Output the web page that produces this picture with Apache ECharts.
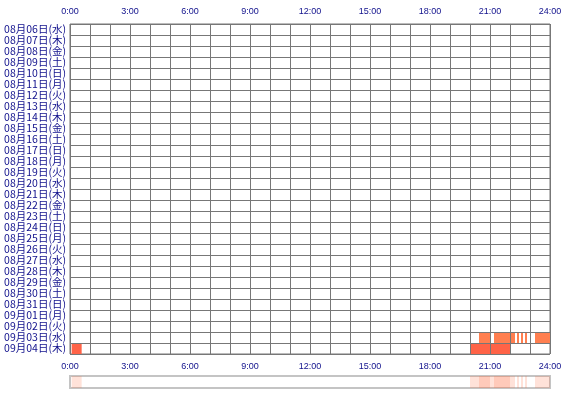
<!DOCTYPE html>
<html>
<head>
<meta charset="utf-8">
<title>timeline</title>
<script src="https://cdn.jsdelivr.net/npm/echarts@6/dist/echarts.min.js"></script>
<style>
  html, body { margin: 0; padding: 0; background: #fff; }
  #main { width: 570px; height: 400px; }
</style>
</head>
<body>
<div id="main"></div>
<script>
// 日付（行）
var dates = [
    '08月06日(水)', '08月07日(木)', '08月08日(金)', '08月09日(土)', '08月10日(日)',
    '08月11日(月)', '08月12日(火)', '08月13日(水)', '08月14日(木)', '08月15日(金)',
    '08月16日(土)', '08月17日(日)', '08月18日(月)', '08月19日(火)', '08月20日(水)',
    '08月21日(木)', '08月22日(金)', '08月23日(土)', '08月24日(日)', '08月25日(月)',
    '08月26日(火)', '08月27日(水)', '08月28日(木)', '08月29日(金)', '08月30日(土)',
    '08月31日(日)', '09月01日(月)', '09月02日(火)', '09月03日(水)', '09月04日(木)'
];

// 活動区間（分単位, 0-1440）
var sessDay   = ['09月03日(水)', '09月03日(水)', '09月03日(水)', '09月03日(水)', '09月03日(水)', '09月03日(水)',
                 '09月04日(木)', '09月04日(木)'];
var sessStart = [1227, 1272, 1341, 1353, 1365, 1395, 5, 1200];
var sessEnd   = [1260, 1335, 1347, 1359, 1371, 1440, 35, 1320];

// 時刻ラベル（3時間ごと）
var hourTicks = ['0:00', '3:00', '6:00', '9:00', '12:00', '15:00', '18:00', '21:00', '24:00'];

var labelColor = '#10108c';
var lineColor = '#777777';

function hourLabel(v) {
    if (v % 180 !== 0) return '';
    return hourTicks[v / 180];
}

var rows = [], strip = [];
for (var i = 0; i < sessDay.length; i++) {
    var r = dates.indexOf(sessDay[i]);
    rows.push([r, sessStart[i], sessEnd[i]]);
    strip.push([0, sessStart[i], sessEnd[i]]);
}

function renderBar(params, api) {
    var y = api.value(0);
    var a = api.coord([api.value(1), y]);
    var b = api.coord([api.value(2), y]);
    var h = api.size([0, 1])[1];
    return {
        type: 'rect',
        shape: { x: a[0], y: a[1] - h / 2, width: b[0] - a[0], height: h },
        style: api.style()
    };
}

var chart = echarts.init(document.getElementById('main'));

var option = {
    backgroundColor: '#fff',
    animation: false,
    textStyle: { fontFamily: '"Noto Sans CJK JP", sans-serif' },
    grid: [
        { left: 70, top: 24, width: 480, height: 330, show: true, borderColor: lineColor, borderWidth: 1, backgroundColor: '#fff' },
        { left: 70, top: 376, width: 480, height: 12, show: true, borderColor: '#c4c4c4', borderWidth: 2, backgroundColor: '#fff' }
    ],
    xAxis: [
        {
            gridIndex: 0, type: 'value', position: 'top', min: 0, max: 1440, interval: 60, z: 3,
            axisLine: { show: false }, axisTick: { show: false },
            axisLabel: { formatter: hourLabel, color: labelColor, fontSize: 9, margin: 8, fontFamily: '"Liberation Sans", sans-serif' },
            splitLine: { show: true, lineStyle: { color: lineColor, width: 1 } }
        },
        {
            gridIndex: 0, type: 'value', position: 'bottom', min: 0, max: 1440, interval: 60,
            axisLine: { show: false }, axisTick: { show: false },
            axisLabel: { formatter: hourLabel, color: labelColor, fontSize: 9, margin: 8, fontFamily: '"Liberation Sans", sans-serif' },
            splitLine: { show: false }
        },
        { gridIndex: 1, type: 'value', min: 0, max: 1440, show: false }
    ],
    yAxis: [
        {
            gridIndex: 0, type: 'category', data: dates, inverse: true, z: 3,
            axisLine: { show: false }, axisTick: { show: false },
            axisLabel: { color: labelColor, fontSize: 10.5, margin: 4, interval: 0 },
            splitLine: { show: true, interval: 0, lineStyle: { color: lineColor, width: 1 } }
        },
        { gridIndex: 1, type: 'category', data: ['all'], show: false }
    ],
    series: [
        {
            type: 'custom', xAxisIndex: 0, yAxisIndex: 0,
            renderItem: function (params, api) {
                var el = renderBar(params, api);
                el.style.fill = api.value(0) === dates.length - 1 ? '#ff6347' : '#ff7f50';
                return el;
            },
            encode: { x: [1, 2], y: 0 },
            data: rows
        },
        {
            type: 'custom', xAxisIndex: 2, yAxisIndex: 1,
            renderItem: function (params, api) {
                var el = renderBar(params, api);
                el.style.fill = '#ff7040';
                el.style.opacity = 0.2;
                return el;
            },
            encode: { x: [1, 2], y: 0 },
            data: strip
        }
    ]
};

chart.setOption(option);
</script>
</body>
</html>
